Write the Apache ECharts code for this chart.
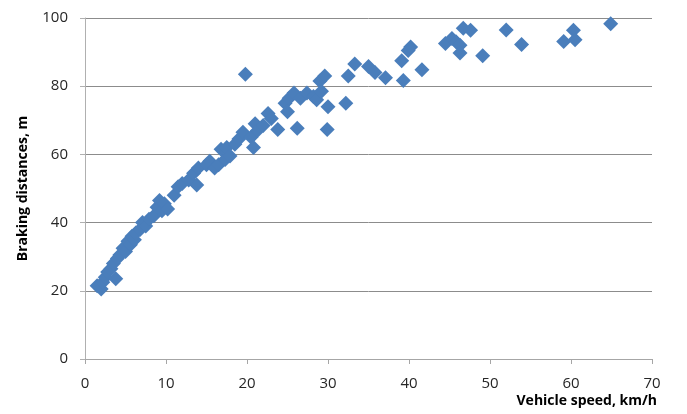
<!DOCTYPE html>
<html>
<head>
<meta charset="utf-8">
<script src="https://cdn.jsdelivr.net/npm/echarts@6/dist/echarts.min.js"></script>
<style>html,body{margin:0;padding:0;background:#fff;}#c{width:687px;height:414px;}</style>
</head>
<body>
<div id="c"></div>
<script>
const xAxisTicks = [0, 10, 20, 30, 40, 50, 60, 70];
const yAxisTicks = [0, 20, 40, 60, 80, 100];
const xTitle = 'Vehicle speed, km/h';
const yTitle = 'Braking distances, m';

const speed = [
  1.5, 2, 2.2, 2.5, 2.8, 3.2, 3.5, 3.8, 4, 4.3, 4.7, 5, 5.3, 5.6, 5.8, 6.1, 6.3, 6.8, 7.1, 7.5, 7.9, 8.5, 8.9, 9.2, 9.5, 9.8, 10.2,
  11, 11.5, 12, 12.8, 13.4, 13.8, 14, 15, 15.4, 16, 16.5, 16.8, 17.3, 17.5, 17.9, 18.5, 19, 19.5, 19.8, 20.5, 20.8, 21, 21.3, 22, 22.6, 23, 23.8,
  24.7, 25, 25.2, 25.8, 26.2, 26.6, 27.4, 28.2, 28.6, 29, 29.2, 29.6, 30, 29.9, 32.2, 32.5, 33.3, 35, 35.8, 37.1, 39.1, 39.3, 39.9, 40.2, 41.6,
  44.5, 45.3, 45.8, 46.3, 46.3, 46.7, 47.6, 49.1, 52, 53.9, 59.1, 60.3, 60.5, 64.9
];
const distance = [
  21.5, 20.5, 22.5, 24, 25.5, 26.5, 28, 23.5, 29.5, 30.5, 32.5, 31.5, 34.5, 33.5, 36, 35, 37, 38, 40, 39, 41, 42, 44.5, 46.5, 43.5, 45.5, 44,
  48, 50.5, 51.5, 52.5, 54.5, 51, 56, 57, 58, 56, 57, 61.5, 58.5, 62, 59.5, 63, 64.5, 66.5, 83.5, 65, 62, 69, 67, 68.5, 72, 70.5, 67.3,
  75, 72.5, 76.5, 78, 67.7, 76.5, 78, 77, 76, 81.5, 78.5, 83, 74, 67.3, 75, 83, 86.5, 85.8, 84, 82.5, 87.5, 81.7, 90.5, 91.5, 84.8,
  92.5, 94, 93, 92, 89.7, 97, 96.4, 88.9, 96.5, 92.2, 93.1, 96.4, 93.6, 98.3
];

const points = speed.map((s, i) => [s, distance[i]]);
const chart = echarts.init(document.getElementById('c'));
const font = '"Open Sans", "Liberation Sans", sans-serif';
chart.setOption({
  animation: false,
  backgroundColor: '#ffffff',
  grid: { left: 85, right: 35, top: 18, bottom: 55 },
  xAxis: {
    type: 'value',
    min: xAxisTicks[0], max: xAxisTicks[xAxisTicks.length - 1], interval: 10,
    name: xTitle,
    nameLocation: 'end',
    nameGap: 5,
    nameTextStyle: { fontFamily: font, fontWeight: 'bold', fontSize: 14, color: '#000', align: 'right', verticalAlign: 'top', padding: [35, 0, 0, 0] },
    axisLine: { lineStyle: { color: '#a6a6a6', width: 1 } },
    axisTick: { show: true, length: 5, lineStyle: { color: '#a6a6a6' } },
    axisLabel: { fontFamily: font, fontSize: 15, color: '#262626', margin: 17 },
    splitLine: { show: false }
  },
  yAxis: {
    type: 'value',
    min: yAxisTicks[0], max: yAxisTicks[yAxisTicks.length - 1], interval: 20,
    name: yTitle,
    nameLocation: 'middle',
    nameGap: 55,
    nameTextStyle: { fontFamily: font, fontWeight: 'bold', fontSize: 14, color: '#000' },
    axisLine: { show: true, lineStyle: { color: '#b0b0b0', width: 1 } },
    axisTick: { show: true, length: 5, lineStyle: { color: '#b0b0b0' } },
    axisLabel: { fontFamily: font, fontSize: 15, color: '#262626', margin: 17 },
    splitLine: { show: true, lineStyle: { color: '#8c8c8c', width: 1 } }
  },
  series: [{
    type: 'scatter',
    data: points,
    symbol: 'diamond',
    symbolSize: 15,
    itemStyle: { color: '#4a7ebb', opacity: 1 }
  }]
});
</script>
</body>
</html>
